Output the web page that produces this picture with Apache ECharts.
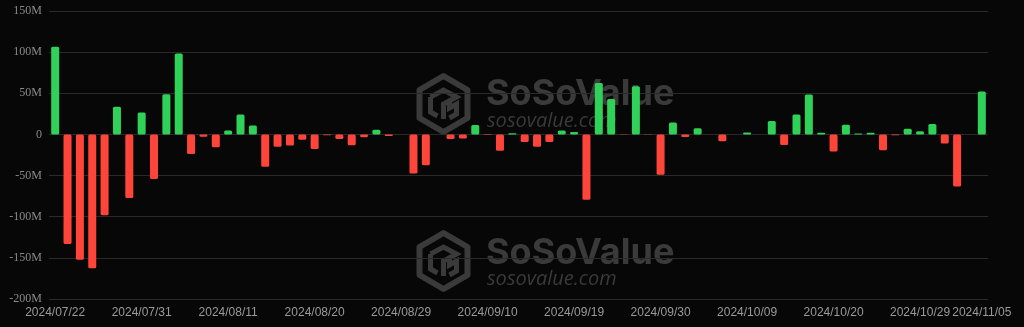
<!DOCTYPE html>
<html>
<head>
<meta charset="utf-8">
<script src="https://cdn.jsdelivr.net/npm/echarts@6/dist/echarts.min.js"></script>
<style>
html,body{margin:0;padding:0;background:#070707;}
#chart{width:1024px;height:327px;}
</style>
</head>
<body>
<div id="chart"></div>
<script>
// Categories (daily dates)
const dates = [
  '2024/07/22','2024/07/23','2024/07/24','2024/07/25',
  '2024/07/28','2024/07/29','2024/07/30','2024/07/31','2024/08/01',
  '2024/08/04','2024/08/05','2024/08/06','2024/08/07','2024/08/08',
  '2024/08/11','2024/08/12','2024/08/13','2024/08/14','2024/08/15',
  '2024/08/18','2024/08/19','2024/08/20','2024/08/21','2024/08/22',
  '2024/08/25','2024/08/26','2024/08/27','2024/08/28','2024/08/29',
  '2024/09/02','2024/09/03','2024/09/04','2024/09/05',
  '2024/09/08','2024/09/09','2024/09/10','2024/09/11','2024/09/12',
  '2024/09/15','2024/09/16','2024/09/17','2024/09/18','2024/09/19',
  '2024/09/22','2024/09/23','2024/09/24','2024/09/25','2024/09/26',
  '2024/09/29','2024/09/30','2024/10/01','2024/10/02','2024/10/03',
  '2024/10/06','2024/10/07','2024/10/08','2024/10/09','2024/10/10',
  '2024/10/13','2024/10/14','2024/10/15','2024/10/16','2024/10/17',
  '2024/10/20','2024/10/21','2024/10/22','2024/10/23','2024/10/24',
  '2024/10/27','2024/10/28','2024/10/29','2024/10/30','2024/10/31',
  '2024/11/03','2024/11/04','2024/11/05'
];
// Daily net flow, in millions USD
const netFlowM = [
  106.6,-133.3,-152.3,-162.7,
  -98.3,33.7,-77.2,26.7,-54.3,
  48.8,98.4,-23.7,-2.9,-15.7,
  4.9,24.3,10.8,-39.2,-15.1,
  -13.5,-6.5,-17.7,-0.9,-5.7,
  -13.0,-3.4,5.8,-1.8,0,
  -47.4,-37.5,-0.2,-5.6,
  -5.0,11.4,-0.8,-19.7,1.5,
  -9.3,-15.1,-9.3,4.9,2.8,
  -79.3,62.5,43.2,-0.5,58.7,
  -0.3,-48.9,14.5,-3.2,7.4,
  0,-8.2,0,2.4,0,
  16.4,-12.7,24.2,48.4,1.9,
  -20.8,11.9,1.2,1.9,-19.2,
  -1.0,7.0,4.0,12.8,-10.9,
  -63.2,0,52.3
];
// Y axis ticks (millions)
const yTicksM = [-200,-150,-100,-50,0,50,100,150];

const GREEN = '#30d158', RED = '#ff453a';
const WM = '#3a3a3a';

function logo(cx, cy) {
  const w = 24, h = 28;
  return {
    type: 'group', x: cx, y: cy, silent: true, z: 0,
    children: [
      { type: 'polygon', shape: { points: [[0,-h],[w,-h/2],[w,h/2],[0,h],[-w,h/2],[-w,-h/2]] },
        style: { fill: 'none', stroke: WM, lineWidth: 6, lineJoin: 'round' } },
      { type: 'polyline', shape: { points: [[-13,-7],[0,-14],[13,-7],[0,0],[0,15]] },
        style: { fill: 'none', stroke: WM, lineWidth: 5 } },
      { type: 'polyline', shape: { points: [[-13,-7],[-13,8],[-6,12]] },
        style: { fill: 'none', stroke: WM, lineWidth: 5 } },
      { type: 'polyline', shape: { points: [[6,-3],[6,4],[13,0],[13,10],[6,14]] },
        style: { fill: 'none', stroke: WM, lineWidth: 5 } }
    ]
  };
}
function wmText(x, y1, y2) {
  return [
    { type: 'text', x: x, y: y1, silent: true, z: 0,
      style: { text: 'SoSoValue', fill: WM, font: 'bold 36px Inter', textVerticalAlign: 'middle' } },
    { type: 'text', x: x + 1, y: y2, silent: true, z: 0,
      style: { text: 'sosovalue.com', fill: WM, font: 'italic 20px "Open Sans"', textVerticalAlign: 'middle' } }
  ];
}

const chart = echarts.init(document.getElementById('chart'), null, { renderer: 'canvas' });
chart.setOption({
  backgroundColor: '#070707',
  animation: false,
  graphic: [logo(443.5, 104), logo(443.5, 261)]
    .concat(wmText(486, 94, 121))
    .concat(wmText(486, 253.5, 279)),
  grid: { left: 49, right: 36, top: 11, bottom: 28, containLabel: false },
  xAxis: {
    type: 'category',
    data: dates,
    axisLine: { show: false, onZero: false },
    axisTick: { show: false },
    axisLabel: {
      interval: function (i) { return i % 7 === 0 || i === dates.length - 1; },
      hideOverlap: false,
      showMinLabel: true,
      showMaxLabel: true,
      color: '#9a9a9a', fontSize: 12, fontFamily: '"Liberation Sans", Arial, sans-serif', margin: 8
    },
    splitLine: { show: false }
  },
  yAxis: {
    type: 'value',
    min: yTicksM[0] * 1e6, max: yTicksM[yTicksM.length - 1] * 1e6, interval: 50e6,
    axisLine: { show: false }, axisTick: { show: false },
    axisLabel: {
      color: '#8a8a8a', fontSize: 12, fontFamily: '"Liberation Serif", serif', margin: 7,
      formatter: function (v) { return v === 0 ? '0' : (v / 1e6) + 'M'; }
    },
    splitLine: { lineStyle: { color: '#2a2a2a', width: 1 } }
  },
  series: [{
    type: 'bar',
    barWidth: 8,
    z: 5,
    data: netFlowM.map(function (v) {
      return { value: v * 1e6, itemStyle: { color: v >= 0 ? GREEN : RED, borderRadius: 1.5 } };
    })
  }]
});
</script>
</body>
</html>
